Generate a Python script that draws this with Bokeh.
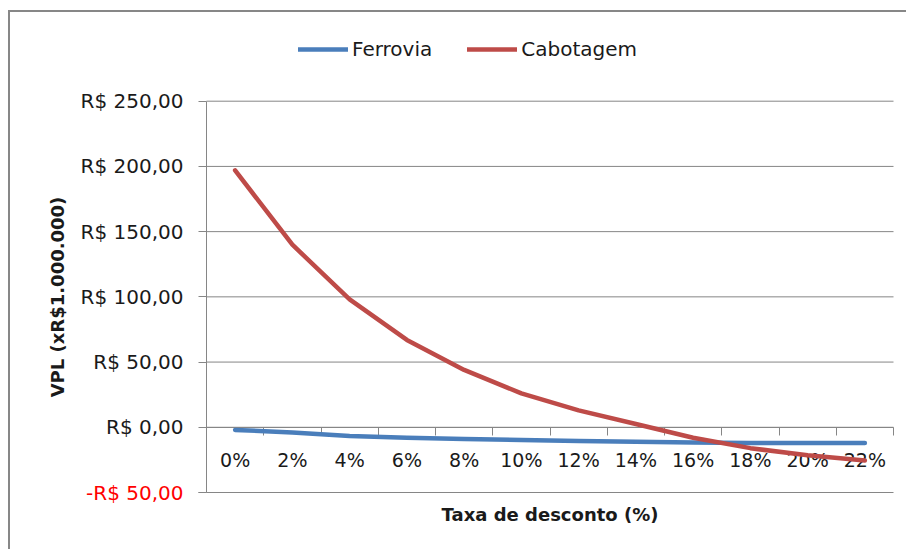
from bokeh.plotting import figure
from bokeh.models import (Range1d, FixedTicker, LinearAxis, Legend, LegendItem)
from bokeh.embed import file_html
from bokeh.resources import INLINE

# ---- data ----
categories = ["0%", "2%", "4%", "6%", "8%", "10%", "12%", "14%", "16%", "18%", "20%", "22%"]
ferrovia = [-2, -4, -6.6, -8, -9, -9.7, -10.5, -11, -11.7, -12, -12, -12]
cabotagem = [197, 140, 98, 67, 44, 26, 13, 2.5, -8, -16, -21.5, -25.5]
y_ticks = [-50, 0, 50, 100, 150, 200, 250]
y_tick_labels = ["-R$ 50,00", "R$ 0,00", "R$ 50,00", "R$ 100,00", "R$ 150,00", "R$ 200,00", "R$ 250,00"]
series_names = ["Ferrovia", "Cabotagem"]
y_title = "VPL (xR$1.000.000)"
x_title = "Taxa de desconto (%)"

FONT = "DejaVu Sans"
TXT = "#1a1a1a"
GRID = "#868686"
BLUE = "#4A7EBB"
RED = "#BE4B48"

# ---- layout (pixels on the canvas) ----
W, H = 898, 539
PLOT_L, PLOT_R, PLOT_T, PLOT_B = 196, 883, 88.7, 480   # plot area inside canvas

xs = list(range(len(categories)))
x_lo, x_hi = -0.5, len(categories) - 0.5
y_lo, y_hi = y_ticks[0], y_ticks[-1]
xpp = (x_hi - x_lo) / (PLOT_R - PLOT_L)
ypp = (y_hi - y_lo) / (PLOT_B - PLOT_T)

p = figure(width=W, height=H, output_backend="svg", toolbar_location=None,
           x_range=Range1d(x_lo - PLOT_L * xpp, x_hi + (W - PLOT_R) * xpp),
           y_range=Range1d(y_lo - (H - PLOT_B) * ypp, y_hi + PLOT_T * ypp),
           min_border_left=0, min_border_right=0, min_border_top=0, min_border_bottom=0,
           styles={"border-left": "2px solid #878787", "border-top": "2px solid #878787",
                   "margin-top": "10px", "margin-left": "8px"})
p.outline_line_color = None
p.background_fill_color = "white"
p.border_fill_color = "white"
p.xgrid.visible = False
p.ygrid.visible = False

# horizontal gridlines across the plot area
p.segment(x0=[x_lo] * len(y_ticks), x1=[x_hi] * len(y_ticks), y0=y_ticks, y1=y_ticks,
          line_color=GRID, line_width=1, level="underlay")

# x axis at y=0
xa = p.xaxis[0]
xa.fixed_location = 0
xa.bounds = (x_lo, x_hi)
xa.level = "underlay"
xa.ticker = FixedTicker(ticks=xs, minor_ticks=[i - 0.5 for i in range(len(categories) + 1)])
xa.major_label_overrides = {i: c for i, c in zip(xs, categories)}
xa.major_tick_line_color = None
xa.major_tick_out = 8
xa.major_tick_in = 0
xa.minor_tick_line_color = GRID
xa.minor_tick_out = 8
xa.minor_tick_in = 0
xa.axis_line_color = GRID
xa.major_label_standoff = 14
xa.major_label_text_font = FONT
xa.major_label_text_font_size = "19px"
xa.major_label_text_color = TXT
xa.axis_label = x_title
xa.axis_label_text_font = FONT
xa.axis_label_text_font_style = "bold"
xa.axis_label_text_font_size = "18px"
xa.axis_label_text_color = TXT
xa.axis_label_standoff = 29

# y axis at left edge of plot area
ya = p.yaxis[0]
ya.fixed_location = x_lo
ya.bounds = (y_lo, y_hi)
ya.level = "underlay"
ya.ticker = FixedTicker(ticks=y_ticks)
ya.major_label_overrides = {t: (l if t >= 0 else "") for t, l in zip(y_ticks, y_tick_labels)}
ya.major_tick_line_color = GRID
ya.major_tick_out = 8
ya.major_tick_in = 0
ya.minor_tick_line_color = None
ya.axis_line_color = GRID
ya.major_label_standoff = 15
ya.major_label_text_font = FONT
ya.major_label_text_font_size = "20px"
ya.major_label_text_color = TXT
ya.axis_label = y_title
ya.axis_label_text_font = FONT
ya.axis_label_text_font_style = "bold"
ya.axis_label_text_font_size = "18px"
ya.axis_label_text_color = TXT
ya.axis_label_standoff = 10

# red label for the negative tick
neg = [(t, l) for t, l in zip(y_ticks, y_tick_labels) if t < 0]
ya2 = LinearAxis(fixed_location=x_lo, bounds=(y_lo, y_hi), level="underlay",
                 ticker=FixedTicker(ticks=[t for t, _ in neg]),
                 major_label_overrides={t: l for t, l in neg})
ya2.axis_line_color = None
ya2.major_tick_line_color = GRID
ya2.major_tick_out = 8
ya2.major_tick_in = 0
ya2.minor_tick_line_color = None
ya2.major_label_standoff = 15
ya2.major_label_text_font = FONT
ya2.major_label_text_font_size = "20px"
ya2.major_label_text_color = "#FF0000"
p.add_layout(ya2, "left")

# lines
r1 = p.line(xs, ferrovia, line_color=BLUE, line_width=4.5, line_join="round", line_cap="round")
r2 = p.line(xs, cabotagem, line_color=RED, line_width=4.5, line_join="round", line_cap="round")

legend = Legend(items=[LegendItem(label=series_names[0], renderers=[r1]),
                       LegendItem(label=series_names[1], renderers=[r2])],
                orientation="horizontal", location=(288, H - 49),
                glyph_width=50, glyph_height=24, label_height=24, label_standoff=4,
                spacing=35, padding=0, margin=0,
                label_text_font=FONT, label_text_font_size="20px", label_text_color=TXT,
                border_line_color=None, background_fill_alpha=0)
p.add_layout(legend, "center")

open("out.html", "w").write(file_html(p, INLINE))
